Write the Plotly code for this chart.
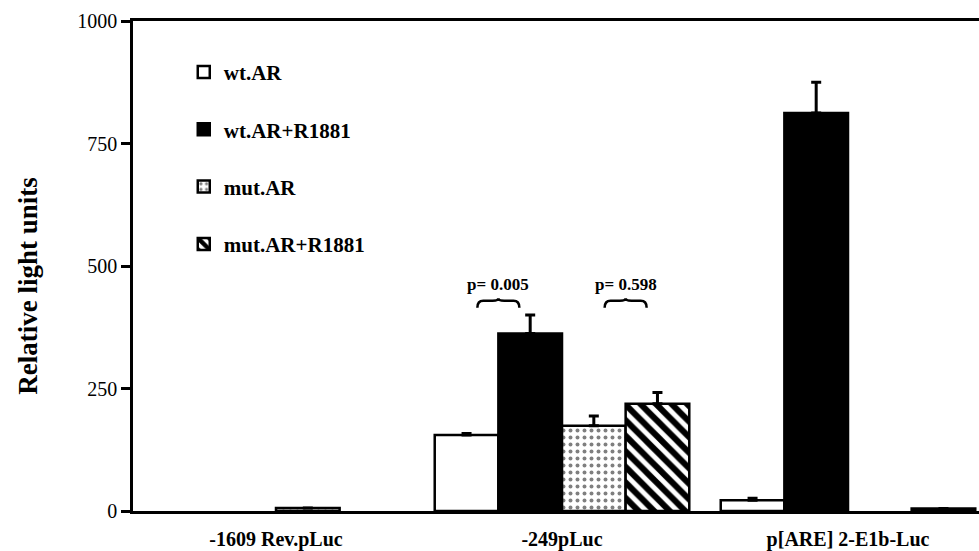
import plotly.graph_objects as go

# Reporter constructs on the x axis
promoters = ["-1609 Rev.pLuc", "-249pLuc", "p[ARE] 2-E1b-Luc"]

# Relative light units (mean) and upper error per construct
wt_ar = [0, 155, 22]
wt_ar_err = [0, 3, 4]
wt_ar_r1881 = [0, 362, 812]
wt_ar_r1881_err = [0, 38, 63]
mut_ar = [6, 174, 0]
mut_ar_err = [0, 20, 0]
mut_ar_r1881 = [0, 219, 5]
mut_ar_r1881_err = [0, 23, 0]

# Significance labels for the -249pLuc comparisons
p_labels = ["p= 0.005", "p= 0.598"]

y_ticks = [0, 250, 500, 750, 1000]

FONT = "Liberation Serif"
BARGAP = 0.11

series = [
    ("wt.AR", wt_ar, wt_ar_err, "white", dict(shape="")),
    ("wt.AR+R1881", wt_ar_r1881, wt_ar_r1881_err, "black", dict(shape="")),
    ("mut.AR", mut_ar, mut_ar_err, "white",
     dict(shape=".", fgcolor="black", bgcolor="white", size=7, solidity=0.25)),
    ("mut.AR+R1881", mut_ar_r1881, mut_ar_r1881_err, "white",
     dict(shape="\\", fgcolor="black", bgcolor="white", fgopacity=1,
          size=11, solidity=0.55)),
]

x = list(range(len(promoters)))

fig = go.Figure()
for name, vals, errs, color, pattern in series:
    # constructs with no signal leave an empty slot in the group
    shown = [v if v > 0 else None for v in vals]
    fig.add_trace(go.Bar(
        x=x, y=shown, name=name, legendgroup=name,
        marker=dict(color=color, line=dict(color="black", width=2.5),
                    pattern=pattern),
        error_y=dict(type="data", symmetric=False, array=errs,
                     arrayminus=[0] * len(errs), color="black",
                     thickness=3, width=5),
    ))

# Bar geometry inside a group, used to place the comparison braces
n_series = len(series)
bar_w = (1 - BARGAP) / n_series


def bar_center(group, idx):
    return group - (1 - BARGAP) / 2 + (idx + 0.5) * bar_w


def brace_path(x0, x1, yb, ym, yt):
    xm = (x0 + x1) / 2
    d = (x1 - x0) * 0.14
    return (f"M{x0},{yb} Q{x0},{ym} {x0 + d},{ym} L{xm - d},{ym} "
            f"Q{xm},{ym} {xm},{yt} Q{xm},{ym} {xm + d},{ym} "
            f"L{x1 - d},{ym} Q{x1},{ym} {x1},{yb}")


group = promoters.index("-249pLuc")
pairs = [(0, 1), (2, 3)]
for (a, b), label in zip(pairs, p_labels):
    x0 = bar_center(group, a) + 0.17 * bar_w
    x1 = bar_center(group, b) - 0.17 * bar_w
    fig.add_shape(type="path", xref="x", yref="y",
                  path=brace_path(x0, x1, 415, 429, 434),
                  line=dict(color="black", width=2.5))
    fig.add_annotation(x=(x0 + x1) / 2, y=462, xref="x", yref="y",
                       text=label, showarrow=False,
                       font=dict(family=FONT, size=17, color="black",
                                 weight="bold"))

# Vertical axis title
fig.add_annotation(x=-0.124, y=0.46, xref="paper", yref="paper",
                   xanchor="center", yanchor="middle", textangle=-90,
                   text="Relative light units", showarrow=False,
                   font=dict(family=FONT, size=27, color="black",
                             weight="bold"))

fig.update_layout(
    width=979, height=551,
    margin=dict(l=133, r=0, t=21, b=35),
    paper_bgcolor="white", plot_bgcolor="white",
    barmode="group", bargap=BARGAP, bargroupgap=0,
    showlegend=True,
    legend=dict(x=0.06, y=0.937, xanchor="left", yanchor="top",
                bgcolor="rgba(0,0,0,0)", tracegroupgap=27,
                traceorder="grouped",
                font=dict(family=FONT, size=21, color="black", weight="bold")),
    font=dict(family=FONT, color="black"),
)

fig.update_xaxes(
    range=[-0.5, 2.458], tickmode="array", tickvals=x, ticktext=promoters,
    showline=True, linecolor="black", linewidth=2.5, mirror=True,
    ticks="", showgrid=False, zeroline=False, ticklabelstandoff=8,
    tickfont=dict(family=FONT, size=20, color="black", weight="bold"),
)

fig.update_yaxes(
    range=[0, 1000], tickmode="array", tickvals=y_ticks,
    showline=True, linecolor="black", linewidth=2.5,
    ticks="outside", ticklen=9, tickwidth=2.5, tickcolor="black",
    showgrid=False, zeroline=False,
    tickfont=dict(family=FONT, size=20, color="black"),
)

fig.write_html("out.html")
